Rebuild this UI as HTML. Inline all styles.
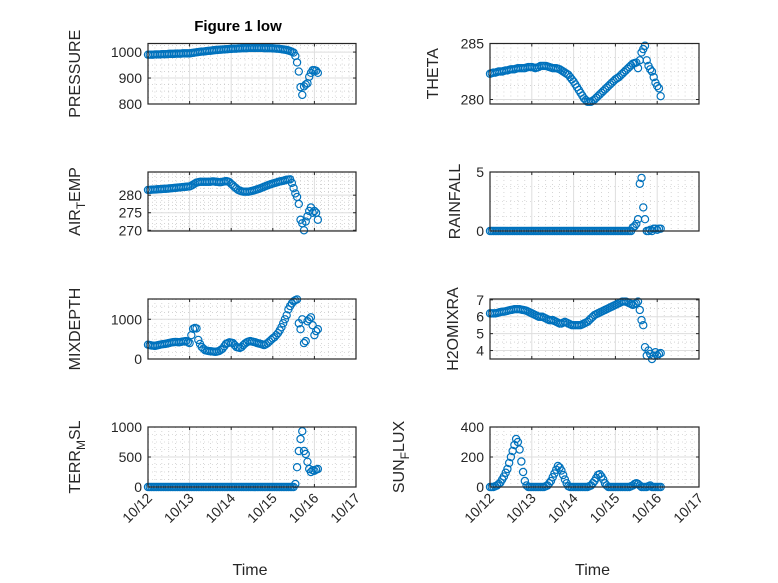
<!DOCTYPE html>
<html><head><meta charset="utf-8"><style>
body{margin:0;background:#fff}
svg{display:block;font-family:"Liberation Sans","DejaVu Sans",sans-serif}
</style></head><body>
<svg id="fig" width="778" height="583" viewBox="0 0 778 583">
<rect width="778" height="583" fill="#fff"/>
<text x="238" y="31" text-anchor="middle" font-size="15" font-weight="bold" fill="#000">Figure 1 low</text>
</svg>
<script>
const hoursA=[0,1,2,3,4,5,6,7,8,9,10,11,12,13,14,15,16,17,18,19,20,21,22,23,24,25,26,27,28,29,30,31,32,33,34,35,36,37,38,39,40,41,42,43,44,45,46,47,48,49,50,51,52,53,54,55,56,57,58,59,60,61,62,63,64,65,66,67,68,69,70,71,72,73,74,75,76,77,78,79,80,81,82,83,84,85,86,87,88,89,90,91,92,93,94,95,96,97,98];
const pressure=[990,990,990,990,991,991,991,991,992,992,992,992,993,993,993,993,994,994,994,994,995,995,995,995,995,
996,997,998,999,1000,1001,1002,1002,1003,1004,1005,1005,1006,1007,1008,1008,1009,1009,1010,1010,1011,1011,1012,1012,
1013,1013,1013,1014,1014,1015,1015,1015,1015,1016,1016,1016,1016,1016,1016,1016,1016,1016,1015,1015,1015,1015,1015,1014,
1014,1013,1013,1012,1011,1010,1009,1008,1006,1004,1001,998,
985,960,925,865,835,868,875,880,905,920,930,930,928,920];
const theta=[282.3,282.35,282.4,282.4,282.45,282.5,282.5,282.5,282.55,282.6,282.6,282.65,282.7,282.7,282.7,282.75,282.8,282.8,282.8,282.8,282.8,282.85,282.9,282.9,282.9,
282.85,282.8,282.85,282.9,283.0,283.0,283.0,283.0,282.95,282.9,282.85,282.8,282.8,282.8,282.75,282.7,282.6,282.5,282.4,282.3,282.2,282.0,281.8,281.6,
281.35,281.1,280.85,280.6,280.35,280.1,279.95,279.8,279.8,279.8,279.9,280.0,280.15,280.3,280.45,280.6,280.75,280.9,281.05,281.2,281.35,281.5,281.65,281.8,
281.9,282.0,282.15,282.3,282.45,282.6,282.75,282.9,283.05,283.2,283.25,283.3,
282.8,283.5,284.2,284.5,284.8,283.5,283.0,282.7,282.5,282.0,281.5,281.2,281.0,280.3];
const airTemp=[281.5,281.5,281.55,281.6,281.6,281.65,281.7,281.7,281.75,281.8,281.8,281.85,281.9,281.95,282.0,282.05,282.1,282.15,282.2,282.25,282.3,282.35,282.4,282.45,282.5,
282.7,283.0,283.3,283.6,283.7,283.8,283.8,283.8,283.8,283.8,283.8,283.8,283.9,283.9,283.8,283.8,283.7,283.7,283.8,283.9,284.0,283.9,283.7,283.2,
282.8,282.3,281.9,281.5,281.3,281.1,281.0,281.0,281.0,281.0,281.1,281.2,281.35,281.5,281.65,281.8,282.0,282.2,282.4,282.6,282.8,283.0,283.15,283.3,
283.45,283.6,283.75,283.9,284.0,284.1,284.25,284.4,284.45,284.5,283.5,282.0,
280.5,279.5,277.5,273,272,270,272.5,274,275.5,276.5,275,275.5,275,273];
const rainfall=[0,0,0,0,0,0,0,0,0,0,0,0,0,0,0,0,0,0,0,0,0,0,0,0,0,
0,0,0,0,0,0,0,0,0,0,0,0,0,0,0,0,0,0,0,0,0,0,0,0,
0,0,0,0,0,0,0,0,0,0,0,0,0,0,0,0,0,0,0,0,0,0,0,0,
0,0,0,0,0,0,0,0,0,0.3,0.4,0.6,
1.0,4.0,4.5,2.0,1.0,0,0,0.1,0,0.2,0.2,0.1,0.2,0.2];
const mixDepth=[360,350,340,335,330,340,350,360,370,375,380,390,400,410,420,425,430,425,420,430,440,445,450,420,400,
600,760,780,770,480,380,300,260,220,210,200,195,190,185,180,190,200,230,260,320,380,400,420,410,
400,350,300,290,280,300,350,390,420,440,450,440,430,420,400,390,380,365,350,370,400,440,480,520,
550,600,650,720,800,900,1000,1100,1250,1330,1400,1450,
1480,1500,900,750,1000,400,450,950,1000,1050,850,600,700,750];
const h2oMix=[6.2,6.2,6.2,6.2,6.22,6.25,6.28,6.3,6.3,6.32,6.35,6.38,6.4,6.42,6.45,6.45,6.45,6.45,6.42,6.4,6.38,6.35,6.3,6.25,6.2,
6.15,6.1,6.05,6.0,6.0,6.0,5.95,5.9,5.85,5.8,5.8,5.8,5.75,5.7,5.65,5.6,5.6,5.65,5.7,5.65,5.6,5.55,5.5,5.5,
5.5,5.5,5.5,5.5,5.55,5.6,5.65,5.7,5.8,5.9,6.0,6.1,6.15,6.2,6.25,6.3,6.35,6.4,6.45,6.5,6.55,6.6,6.65,6.7,
6.75,6.8,6.85,6.9,6.9,6.9,6.85,6.8,6.75,6.7,6.75,6.8,
6.9,6.4,5.8,5.5,4.2,3.7,4.0,3.8,3.5,3.7,3.9,3.7,3.8,3.85];
const terrMsl=[0,0,0,0,0,0,0,0,0,0,0,0,0,0,0,0,0,0,0,0,0,0,0,0,0,
0,0,0,0,0,0,0,0,0,0,0,0,0,0,0,0,0,0,0,0,0,0,0,0,
0,0,0,0,0,0,0,0,0,0,0,0,0,0,0,0,0,0,0,0,0,0,0,0,
0,0,0,0,0,0,0,0,0,0,0,0,
50,330,600,800,930,600,550,420,300,250,280,270,290,300];
const sunFlux=[0,0,0,5,10,20,30,50,70,95,120,160,200,240,280,320,300,250,170,100,40,10,0,0,0,
0,0,0,0,0,0,0,5,10,25,40,65,90,115,140,130,110,80,50,25,5,0,0,0,
0,0,0,0,0,0,0,0,5,10,25,40,60,80,85,70,50,25,10,0,0,0,0,0,
0,0,0,0,0,0,0,0,5,10,20,25,
20,10,0,0,0,0,5,10,0,0,0,0,0,0];
const xTickLabels=['10/12','10/13','10/14','10/15','10/16','10/17'];

const NS='http://www.w3.org/2000/svg';
const svg=document.getElementById('fig');
function mk(tag,attrs,parent){const e=document.createElementNS(NS,tag);for(const k in attrs)e.setAttribute(k,attrs[k]);(parent||svg).appendChild(e);return e;}

const panels=[
 {name:'pressure',label:['PRESSURE'],vals:pressure,ymin:800,ymax:1033,ticks:[800,900,1000],col:0,row:0,minor:4,lx:80},
 {name:'theta',label:['THETA'],vals:theta,ymin:279.6,ymax:285,ticks:[280,285],col:1,row:0,minor:4,lx:438},
 {name:'air-temp',label:['AIR','T','EMP'],vals:airTemp,ymin:269.8,ymax:286.6,ticks:[270,275,280],col:0,row:1,minor:5,lx:80},
 {name:'rainfall',label:['RAINFALL'],vals:rainfall,ymin:0,ymax:5,ticks:[0,5],col:1,row:1,minor:4,lx:460},
 {name:'mixdepth',label:['MIXDEPTH'],vals:mixDepth,ymin:0,ymax:1510,ticks:[0,1000],col:0,row:2,minor:6,lx:80},
 {name:'h2omixra',label:['H2OMIXRA'],vals:h2oMix,ymin:3.5,ymax:7.05,ticks:[4,5,6,7],col:1,row:2,minor:2,lx:458},
 {name:'terr-msl',label:['TERR','M','SL'],vals:terrMsl,ymin:0,ymax:1000,ticks:[0,500,1000],col:0,row:3,minor:4,lx:80},
 {name:'sun-flux',label:['SUN','F','LUX'],vals:sunFlux,ymin:0,ymax:400,ticks:[0,200,400],col:1,row:3,minor:4,lx:404}
];
const colX=[[148,356],[490,699]];
const rowY=[[43.5,104],[172,231],[299,359],[427,487]];

panels.forEach(p=>{
 const [x0,x1]=colX[p.col],[y0,y1]=rowY[p.row];
 const g=mk('g',{});
 
 
 const xs=h=>x0+(h/24)/5*(x1-x0);
 const ys=v=>y1-(v-p.ymin)/(p.ymax-p.ymin)*(y1-y0);
 for(let d=0;d<5;d++)for(let k=1;k<6;k++){const x=xs((d+k/6)*24);mk('line',{x1:x,x2:x,y1:y0,y2:y1,stroke:'#bbb','stroke-width':0.6,'stroke-dasharray':'1,3'},g);}
 const step=p.ticks.length>1?(p.ticks[1]-p.ticks[0])/p.minor:1;
 for(let v=p.ticks[0]-step*20;v<=p.ymax;v+=step){if(v<p.ymin)continue;const y=ys(v);mk('line',{x1:x0,x2:x1,y1:y,y2:y,stroke:'#bbb','stroke-width':0.6,'stroke-dasharray':'1,3'},g);}
 for(let d=1;d<5;d++){const x=xs(d*24);mk('line',{x1:x,x2:x,y1:y0,y2:y1,stroke:'#dedede','stroke-width':1},g);}
 p.ticks.forEach(v=>{const y=ys(v);mk('line',{x1:x0,x2:x1,y1:y,y2:y,stroke:'#dedede','stroke-width':1},g);});
 for(let d=0;d<=5;d++){const x=xs(d*24);mk('line',{x1:x,x2:x,y1:y1,y2:y1-3,stroke:'#262626'},g);mk('line',{x1:x,x2:x,y1:y0,y2:y0+3,stroke:'#262626'},g);}
 p.ticks.forEach(v=>{const y=ys(v);mk('line',{x1:x0,x2:x0+3,y1:y,y2:y,stroke:'#262626'},g);mk('line',{x1:x1,x2:x1-3,y1:y,y2:y,stroke:'#262626'},g);
   const t=mk('text',{x:x0-6,y:y+5,'text-anchor':'end','font-size':14,fill:'#262626'},g);t.textContent=v;
   
   });
 p.vals.forEach((v,i)=>{const c=mk('circle',{cx:xs(hoursA[i]),cy:ys(v),r:3.6,fill:'none',stroke:'#0072BD','stroke-width':1.2},g);
   
   });
 mk('rect',{x:x0,y:y0,width:x1-x0,height:y1-y0,fill:'none',stroke:'#262626','stroke-width':1.2},g);
 const cy=(y0+y1)/2;
 const lab=mk('text',{x:0,y:0,'text-anchor':'middle','font-size':16,fill:'#262626',transform:`translate(${p.lx},${cy}) rotate(-90)`},g);
 
 
 if(p.label.length===1){lab.textContent=p.label[0];}
 else{const a=mk('tspan',{},lab);a.textContent=p.label[0];const b=mk('tspan',{'font-size':12,dy:5},lab);b.textContent=p.label[1];const c=mk('tspan',{dy:-5},lab);c.textContent=p.label[2];}
 if(p.row===3){
  xTickLabels.forEach((s,d)=>{const x=xs(d*24);const t=mk('text',{x:0,y:0,'text-anchor':'end','font-size':14,fill:'#262626',transform:`translate(${x+5},${y1+12}) rotate(-45)`},g);t.textContent=s;
   
   });
  const tt=mk('text',{x:(x0+x1)/2-2,y:575,'text-anchor':'middle','font-size':16,fill:'#262626'},g);tt.textContent='Time';
  
  
 }
});
</script>
</body></html>
